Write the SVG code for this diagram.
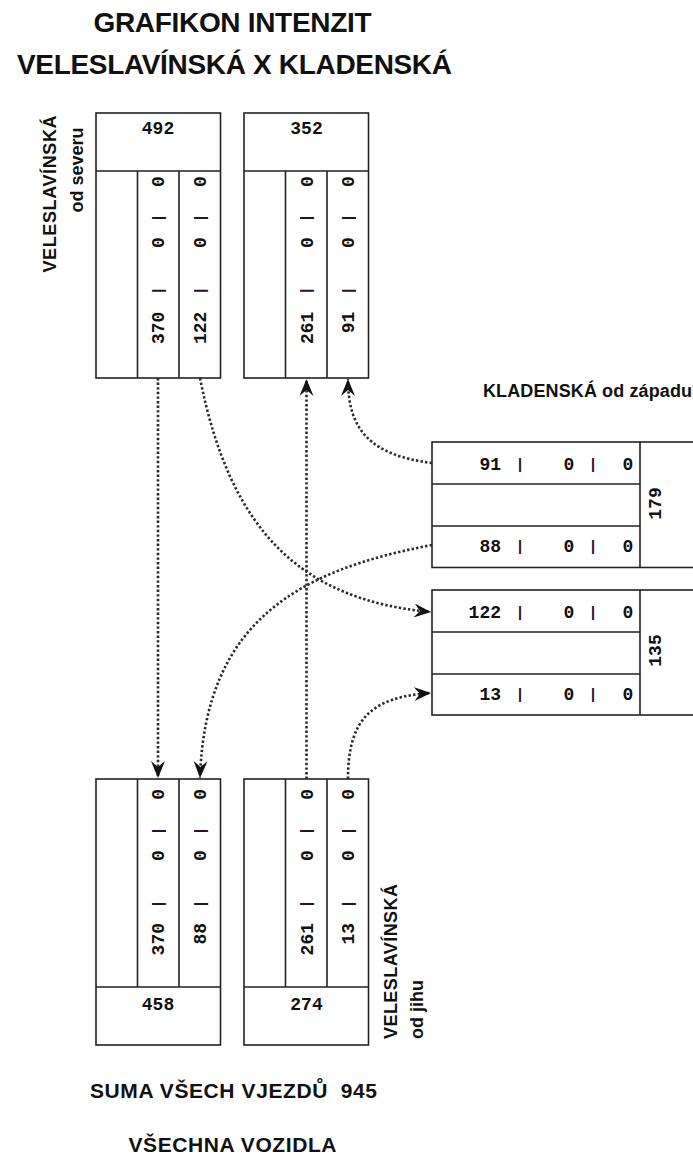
<svg xmlns="http://www.w3.org/2000/svg" width="693" height="1157" viewBox="0 0 693 1157">
  <style>
    .bg { fill: #ffffff; }
    .box { fill: #ffffff; stroke: #222222; stroke-width: 1.6; }
    .div { stroke: #222222; stroke-width: 1.6; fill: none; }
    .num { font-family: "Liberation Mono", "DejaVu Sans Mono", monospace; font-size: 18px; font-weight: bold; fill: #111111; }
    .sep { font-family: "Liberation Mono", "DejaVu Sans Mono", monospace; font-size: 15px; font-weight: bold; fill: #2a1030; }
    .mid { text-anchor: middle; }
    .end { text-anchor: end; }
    .title { font-family: "Liberation Sans", Arial, sans-serif; font-weight: bold; font-size: 28px; fill: #111111; }
    .lbl { font-family: "Liberation Sans", Arial, sans-serif; font-weight: bold; font-size: 18px; fill: #111111; }
    .foot { font-family: "Liberation Sans", Arial, sans-serif; font-weight: bold; font-size: 21px; fill: #111111; white-space: pre; }
    .flow { fill: none; stroke: #2a2a2a; stroke-width: 2.6; stroke-dasharray: 2.4 2.2; marker-end: url(#vee); }
  </style>
  <defs>
    <marker id="vee" viewBox="0 0 18 14" markerUnits="userSpaceOnUse" markerWidth="18" markerHeight="14" refX="17" refY="7" orient="auto">
      <path d="M0,0 L17,7 L0,14 L6,7 Z" fill="#111111"/>
    </marker>
  </defs>

  <rect class="bg" x="0" y="0" width="693" height="1157"/>

  <!-- heading -->
  <text class="title mid" x="232.5" y="32" textLength="278" lengthAdjust="spacing">GRAFIKON INTENZIT</text>
  <text class="title mid" x="234.5" y="74" textLength="435" lengthAdjust="spacing">VELESLAVÍNSKÁ X KLADENSKÁ</text>

  <!-- north approach: Veleslavínská from the north -->
  <g id="north-in">
    <rect class="box" x="96" y="113" width="124.5" height="265"/>
    <path class="div" d="M96,171 H220.5 M137.5,171 V378 M179,171 V378"/>
    <text class="num mid" x="158" y="133.5">492</text>
    <g transform="translate(164,0) rotate(-90)">
      <text class="num mid" x="-181.7">0</text>
      <text class="sep mid" x="-218" y="-1.5">|</text>
      <text class="num mid" x="-242.7">0</text>
      <text class="sep mid" x="-290.7" y="-1.5">|</text>
      <text class="num end" x="-311.7">370</text>
    </g>
    <g transform="translate(206,0) rotate(-90)">
      <text class="num mid" x="-181.7">0</text>
      <text class="sep mid" x="-218" y="-1.5">|</text>
      <text class="num mid" x="-242.7">0</text>
      <text class="sep mid" x="-290.7" y="-1.5">|</text>
      <text class="num end" x="-311.7">122</text>
    </g>
    <g transform="translate(55.5,194) rotate(-90)">
      <text class="lbl mid" x="0" y="0" textLength="157" lengthAdjust="spacing">VELESLAVÍNSKÁ</text>
    </g>
    <g transform="translate(83,170) rotate(-90)">
      <text class="lbl mid" x="0" y="0">od severu</text>
    </g>
  </g>

  <!-- north exit -->
  <g id="north-out">
    <rect class="box" x="244" y="113" width="124.5" height="265"/>
    <path class="div" d="M244,171 H368.5 M285.5,171 V378 M327,171 V378"/>
    <text class="num mid" x="306.5" y="133.5">352</text>
    <g transform="translate(312.5,0) rotate(-90)">
      <text class="num mid" x="-181.7">0</text>
      <text class="sep mid" x="-218" y="-1.5">|</text>
      <text class="num mid" x="-242.7">0</text>
      <text class="sep mid" x="-290.7" y="-1.5">|</text>
      <text class="num end" x="-311.7">261</text>
    </g>
    <g transform="translate(354,0) rotate(-90)">
      <text class="num mid" x="-181.7">0</text>
      <text class="sep mid" x="-218" y="-1.5">|</text>
      <text class="num mid" x="-242.7">0</text>
      <text class="sep mid" x="-290.7" y="-1.5">|</text>
      <text class="num end" x="-311.7">91</text>
    </g>
  </g>

  <!-- west approach: Kladenská from the west -->
  <text class="lbl" x="483" y="397" font-size="17" textLength="209" lengthAdjust="spacing">KLADENSKÁ od západu</text>

  <g id="west-in">
    <rect class="box" x="432" y="442" width="266" height="125.5"/>
    <path class="div" d="M640,442 V567.5 M432,484 H640 M432,526 H640"/>
    <text class="num end" x="501" y="470">91</text>
    <text class="sep mid" x="520" y="468.5">|</text>
    <text class="num mid" x="569" y="470">0</text>
    <text class="sep mid" x="593" y="468.5">|</text>
    <text class="num mid" x="628" y="470">0</text>
    <text class="num end" x="501" y="552.3">88</text>
    <text class="sep mid" x="520" y="550.8">|</text>
    <text class="num mid" x="569" y="552.3">0</text>
    <text class="sep mid" x="593" y="550.8">|</text>
    <text class="num mid" x="628" y="552.3">0</text>
    <g transform="translate(661,503.5) rotate(-90)">
      <text class="num mid" x="0" y="0">179</text>
    </g>
  </g>

  <g id="west-out">
    <rect class="box" x="432" y="590" width="266" height="125"/>
    <path class="div" d="M640,590 V715 M432,632 H640 M432,674 H640"/>
    <text class="num end" x="501" y="618.3">122</text>
    <text class="sep mid" x="520" y="616.8">|</text>
    <text class="num mid" x="569" y="618.3">0</text>
    <text class="sep mid" x="593" y="616.8">|</text>
    <text class="num mid" x="628" y="618.3">0</text>
    <text class="num end" x="501" y="700">13</text>
    <text class="sep mid" x="520" y="698.5">|</text>
    <text class="num mid" x="569" y="700">0</text>
    <text class="sep mid" x="593" y="698.5">|</text>
    <text class="num mid" x="628" y="700">0</text>
    <g transform="translate(661,650.5) rotate(-90)">
      <text class="num mid" x="0" y="0">135</text>
    </g>
  </g>

  <!-- south exit -->
  <g id="south-out">
    <rect class="box" x="96" y="779" width="124.5" height="266"/>
    <path class="div" d="M96,987 H220.5 M137.5,779 V987 M179,779 V987"/>
    <text class="num mid" x="158" y="1010">458</text>
    <g transform="translate(164,0) rotate(-90)">
      <text class="num mid" x="-794.3">0</text>
      <text class="sep mid" x="-831" y="-1.5">|</text>
      <text class="num mid" x="-855.7">0</text>
      <text class="sep mid" x="-904" y="-1.5">|</text>
      <text class="num end" x="-923">370</text>
    </g>
    <g transform="translate(206,0) rotate(-90)">
      <text class="num mid" x="-794.3">0</text>
      <text class="sep mid" x="-831" y="-1.5">|</text>
      <text class="num mid" x="-855.7">0</text>
      <text class="sep mid" x="-904" y="-1.5">|</text>
      <text class="num end" x="-923">88</text>
    </g>
  </g>

  <!-- south approach: Veleslavínská from the south -->
  <g id="south-in">
    <rect class="box" x="244" y="779" width="124.5" height="266"/>
    <path class="div" d="M244,987 H368.5 M285.5,779 V987 M327,779 V987"/>
    <text class="num mid" x="306.5" y="1010">274</text>
    <g transform="translate(312.5,0) rotate(-90)">
      <text class="num mid" x="-794.3">0</text>
      <text class="sep mid" x="-831" y="-1.5">|</text>
      <text class="num mid" x="-855.7">0</text>
      <text class="sep mid" x="-904" y="-1.5">|</text>
      <text class="num end" x="-923">261</text>
    </g>
    <g transform="translate(354,0) rotate(-90)">
      <text class="num mid" x="-794.3">0</text>
      <text class="sep mid" x="-831" y="-1.5">|</text>
      <text class="num mid" x="-855.7">0</text>
      <text class="sep mid" x="-904" y="-1.5">|</text>
      <text class="num end" x="-923">13</text>
    </g>
    <g transform="translate(396.5,1039) rotate(-90)">
      <text class="lbl" x="0" y="0" textLength="155" lengthAdjust="spacing">VELESLAVÍNSKÁ</text>
    </g>
    <g transform="translate(423,1039) rotate(-90)">
      <text class="lbl" x="0" y="0">od jihu</text>
    </g>
  </g>

  <!-- turning movements -->
  <g id="connectors">
    <path class="flow" d="M158,378 L158,778"/>
    <path class="flow" d="M200,378 C230,530 300,600 431,612"/>
    <path class="flow" d="M306.5,779 L306.5,379"/>
    <path class="flow" d="M432,463 C370,455 348,430 348,379"/>
    <path class="flow" d="M432,545 C300,570 205,620 200,778"/>
    <path class="flow" d="M348,779 C348,720 370,697 431,693"/>
  </g>

  <!-- totals -->
  <text class="foot" x="90" y="1097.5" textLength="287" lengthAdjust="spacing">SUMA VŠECH VJEZDŮ  945</text>
  <text class="foot mid" x="232.5" y="1151.5" textLength="208" lengthAdjust="spacing">VŠECHNA VOZIDLA</text>
</svg>
